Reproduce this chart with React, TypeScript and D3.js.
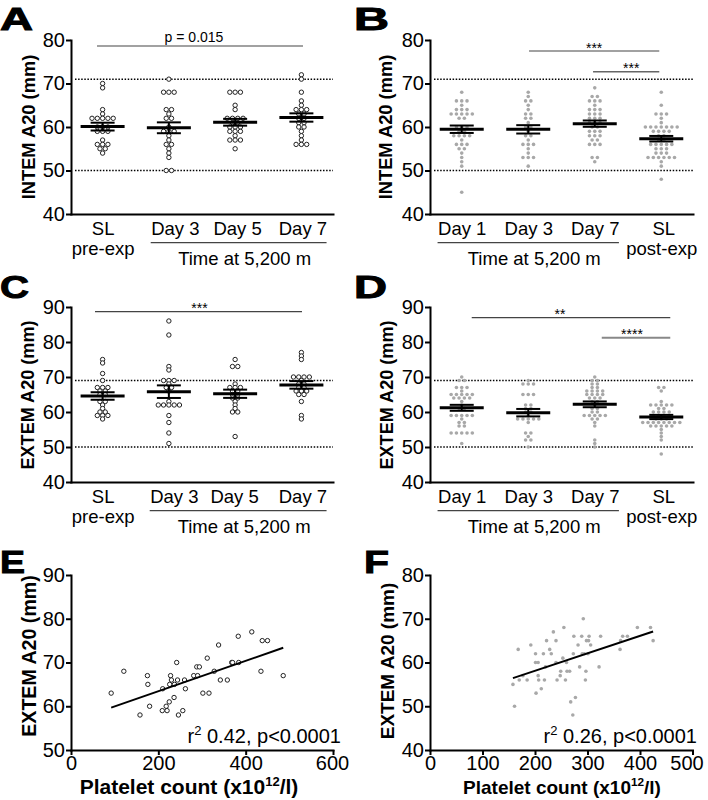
import * as d3 from "d3";
import { useEffect, useRef } from "react";

const FONT = "'Liberation Sans', Arial, Helvetica, sans-serif";
const W = 708;
const H = 800;

// ---- A: INTEM A20, first group (open circles)
const catsA = ["SL|pre-exp", "Day 3", "Day 5", "Day 7"];
const intemPreSL = [70, 69, 64, 63, 62, 62, 62, 62, 62, 60, 60, 60, 59, 59, 59, 57, 56, 56, 56, 55, 55, 54];
const intemDay3A = [71, 68, 68, 68, 64, 64, 63, 62, 62, 60, 59, 59, 59, 58, 57, 56, 56, 55, 54, 53, 50, 50];
const intemDay5A = [68, 68, 68, 65, 64, 62, 62, 62, 62, 61, 61, 60, 60, 60, 59, 59, 59, 58, 57, 57, 57, 55];
const intemDay7A = [72, 71, 68, 66, 65, 64, 64, 64, 63, 63, 62, 62, 61, 61, 60, 60, 59, 58, 57, 56, 56, 56];

// ---- B: INTEM A20, second group (grey dots)
const catsB = ["Day 1", "Day 3", "Day 7", "SL|post-exp"];
const intemDay1B = [68, 66, 66, 66, 65, 64, 64, 64, 63, 63, 63, 63, 63, 62, 62, 60, 60, 60, 59, 59, 58, 58, 58, 58, 57, 56, 56, 56, 55, 55, 54, 53, 52, 51, 45];
const intemDay3B = [68, 67, 66, 66, 65, 64, 63, 63, 62, 62, 61, 60, 60, 59, 58, 58, 57, 56, 56, 56, 55, 54, 53, 53, 53, 51];
const intemDay7B = [69, 67, 67, 66, 66, 66, 65, 64, 64, 64, 63, 63, 63, 62, 62, 62, 61, 61, 61, 60, 60, 59, 59, 59, 58, 58, 58, 57, 57, 56, 56, 56, 53, 53, 52];
const intemPostSL = [68, 65, 63, 63, 63, 62, 61, 60, 60, 60, 60, 60, 60, 60, 59, 59, 59, 59, 58, 58, 57, 57, 56, 56, 56, 56, 56, 55, 55, 55, 54, 54, 54, 53, 53, 53, 53, 53, 53, 52, 51, 48];

// ---- C: EXTEM A20, first group
const extemPreSL = [75, 74, 71, 69, 67, 67, 67, 66, 66, 65, 65, 63, 63, 62, 61, 60, 60, 59, 59, 59, 58];
const extemDay3A = [86, 82, 73, 72, 69, 69, 69, 68, 67, 67, 66, 63, 62, 62, 62, 62, 62, 59, 57, 54, 51];
const extemDay5A = [75, 73, 73, 68, 67, 67, 67, 66, 66, 65, 65, 64, 64, 63, 62, 61, 60, 60, 53];
const extemDay7A = [77, 76, 75, 70, 70, 70, 70, 69, 68, 68, 67, 67, 66, 66, 66, 65, 65, 63, 59, 58];

// ---- D: EXTEM A20, second group
const extemDay1B = [70, 69, 69, 67, 67, 67, 66, 65, 65, 65, 65, 65, 64, 64, 64, 64, 63, 62, 61, 61, 59, 59, 59, 59, 59, 58, 57, 57, 56, 56, 54, 54, 54, 54, 54, 51];
const extemDay3B = [69, 68, 68, 68, 65, 65, 65, 62, 62, 61, 61, 60, 60, 59, 58, 58, 58, 58, 58, 57, 54, 54, 53, 52, 52, 50];
const extemDay7B = [70, 69, 69, 68, 68, 67, 67, 66, 66, 66, 66, 65, 65, 65, 65, 64, 64, 64, 63, 63, 62, 61, 61, 60, 60, 59, 59, 59, 59, 59, 58, 58, 57, 56, 52, 51, 50];
const extemPostSL = [67, 67, 66, 63, 62, 62, 62, 62, 62, 61, 61, 60, 60, 60, 60, 59, 59, 59, 59, 58, 58, 58, 57, 57, 57, 57, 57, 57, 57, 57, 56, 56, 56, 56, 56, 55, 54, 53, 52, 48];

// ---- E / F: EXTEM A20 vs platelet count
const plateletE = [92, 121, 158, 175, 176, 180, 210, 209, 218, 220, 225, 228, 230, 226, 237, 236, 242, 244, 246, 256, 260, 262, 281, 288, 294, 290, 302, 312, 316, 328, 338, 342, 358, 368, 370, 384, 383, 414, 435, 438, 450, 486];
const extemE = [63, 68, 58, 67, 65, 60, 64, 59, 60, 59, 61, 67, 66, 65, 65, 62, 70, 66, 58, 59, 66, 64, 67, 69, 69, 67, 63, 71, 63, 68, 74, 66, 66, 70, 70, 70, 76, 77, 68, 75, 75, 67];
const plateletF = [158, 161, 168, 170, 177, 185, 192, 201, 201, 206, 202, 206, 207, 212, 216, 218, 222, 220, 228, 231, 235, 240, 240, 242, 248, 249, 253, 255, 258, 260, 261, 266, 268, 274, 273, 277, 272, 282, 285, 289, 290, 292, 294, 296, 297, 298, 302, 303, 301, 306, 322, 325, 362, 363, 367, 376, 395, 420, 425];
const extemF = [55, 50, 63, 56, 57, 56, 64, 62, 60, 60, 53, 57, 56, 54, 62, 56, 65, 59, 63, 62, 67, 65, 60, 56, 57, 58, 61, 68, 56, 60, 58, 58, 51, 66, 62, 52, 48, 64, 59, 66, 62, 70, 62, 56, 58, 65, 65, 66, 62, 64, 59, 66, 63, 65, 66, 66, 68, 68, 65];

const ticksAB = [40, 50, 60, 70, 80];
const ticksCD = [40, 50, 60, 70, 80, 90];
const ticksEy = [50, 60, 70, 80, 90];
const ticksEx = [0, 200, 400, 600];
const ticksFy = [40, 50, 60, 70, 80];
const ticksFx = [0, 100, 200, 300, 400, 500];
const refIntem = [71, 50];
const refExtem = [69, 50];

type Sig = { from: number; to: number; label: string };
const sigA: Sig[] = [{ from: 0, to: 3, label: "p = 0.015" }];
const sigB: Sig[] = [
  { from: 1, to: 3, label: "***" },
  { from: 2, to: 3, label: "***" },
];
const sigC: Sig[] = [{ from: 0, to: 3, label: "***" }];
const sigD: Sig[] = [
  { from: 0, to: 3, label: "**" },
  { from: 2, to: 3, label: "****" },
];

type Sel = d3.Selection<SVGSVGElement, unknown, null, undefined>;

// identical values are spread side by side, centred on the column
function swarm(values: number[], step: number) {
  const counts = d3.rollup(values, v => v.length, d => d);
  const seen = new Map<number, number>();
  return values.map(v => {
    const n = counts.get(v)!;
    const i = seen.get(v) ?? 0;
    seen.set(v, i + 1);
    return { v, dx: (i - (n - 1) / 2) * step };
  });
}

function letter(svg: Sel, t: string, x: number, y: number, w: number) {
  svg
    .append("text")
    .attr("x", x)
    .attr("y", y)
    .attr("font-family", FONT)
    .attr("font-weight", 700)
    .attr("font-size", 32)
    .attr("textLength", w)
    .attr("lengthAdjust", "spacingAndGlyphs")
    .attr("stroke", "#000")
    .attr("stroke-width", 1)
    .text(t);
}

function yTitle(svg: Sel, t: string, x: number, y: number, size: number) {
  svg
    .append("text")
    .attr("transform", `translate(${x},${y}) rotate(-90)`)
    .attr("text-anchor", "middle")
    .attr("dy", "0.35em")
    .attr("font-family", FONT)
    .attr("font-weight", 700)
    .attr("font-size", size)
    .text(t);
}

function styleAxis(ax: d3.Selection<SVGGElement, unknown, null, undefined>, size: number) {
  ax.attr("font-family", FONT);
  ax.select(".domain").attr("stroke", "#000").attr("stroke-width", 2).attr("stroke-linecap", "square");
  ax.selectAll(".tick line").attr("stroke", "#000").attr("stroke-width", 2);
  ax.selectAll(".tick text").attr("fill", "#000").attr("font-size", size);
}

interface DotOpts {
  left: number;
  right: number;
  top: number;
  bottom: number;
  domain: [number, number];
  ticks: number[];
  cats: string[];
  groups: number[][];
  filled: boolean;
  refs: number[];
  dayIdx: [number, number];
  nudge: number[];
  sigs: Sig[];
  sigY: number[];
  sigDx: [number, number][];
  sigLabelDx: number[];
  sigColor: string[];
  sigWidth: number[];
}

function dotPanel(svg: Sel, o: DotOpts) {
  const g = svg.append("g");
  const y = d3.scaleLinear().domain(o.domain).range([o.bottom, o.top]);
  const x = d3
    .scalePoint<number>()
    .domain(d3.range(o.cats.length))
    .range([o.left, o.right])
    .padding(0.477);

  // normal range lines
  g.selectAll(".ref")
    .data(o.refs)
    .join("line")
    .attr("x1", o.left + 4)
    .attr("x2", o.right)
    .attr("y1", d => y(d))
    .attr("y2", d => y(d))
    .attr("stroke", "#000")
    .attr("stroke-width", 1.5)
    .attr("stroke-dasharray", "1.5 1.6");

  o.groups.forEach((vals, i) => {
    const cx = x(i)!;
    g.append("g")
      .selectAll("circle")
      .data(swarm(vals, 5.3))
      .join("circle")
      .attr("cx", d => cx + d.dx)
      .attr("cy", d => y(d.v))
      .attr("r", o.filled ? 1.8 : 2.2)
      .attr("fill", o.filled ? "#a8a8a8" : "#fff")
      .attr("stroke", o.filled ? "none" : "#222")
      .attr("stroke-width", 1);

    const m = d3.mean(vals)!;
    const se = d3.deviation(vals)! / Math.sqrt(vals.length);
    const bar = g.append("g").attr("stroke", "#000");
    bar.append("line").attr("x1", cx - 22).attr("x2", cx + 22).attr("y1", y(m)).attr("y2", y(m)).attr("stroke-width", 3);
    bar.append("line").attr("x1", cx).attr("x2", cx).attr("y1", y(m - se)).attr("y2", y(m + se)).attr("stroke-width", 2);
    [m - se, m + se].forEach(v =>
      bar.append("line").attr("x1", cx - 12).attr("x2", cx + 12).attr("y1", y(v)).attr("y2", y(v)).attr("stroke-width", 2),
    );
  });

  // y axis
  const ay = g
    .append("g")
    .attr("transform", `translate(${o.left},0)`)
    .call(d3.axisLeft(y).tickValues(o.ticks).tickSize(5).tickSizeOuter(0).tickPadding(1));
  styleAxis(ay, 20);

  // x axis with two-line category labels
  const ax = g
    .append("g")
    .attr("transform", `translate(0,${o.bottom})`)
    .call(
      d3
        .axisBottom(x)
        .tickSize(0)
        .tickSizeOuter(0)
        .tickPadding(8)
        .tickFormat(() => ""),
    );
  styleAxis(ax, 18.5);
  const widths: number[] = [];
  ax.selectAll<SVGTextElement, number>(".tick text").each(function (d) {
    const t = d3.select(this).attr("dx", o.nudge[d]);
    o.cats[d].split("|").forEach((line, k) => {
      t.append("tspan")
        .attr("x", 0)
        .attr("dy", k === 0 ? null : "1.05em")
        .text(line);
    });
    widths[d] = (this.firstChild as SVGTextContentElement).getComputedTextLength();
  });

  // bracket under the altitude days
  const [a, b] = o.dayIdx;
  const bx1 = x(a)! + o.nudge[a] - widths[a] / 2;
  const bx2 = x(b)! + o.nudge[b] + widths[b] / 2;
  g.append("line")
    .attr("x1", bx1)
    .attr("x2", bx2)
    .attr("y1", o.bottom + 28.7)
    .attr("y2", o.bottom + 28.7)
    .attr("stroke", "#444")
    .attr("stroke-width", 1.2);
  g.append("text")
    .attr("x", (bx1 + bx2) / 2 + 6)
    .attr("y", o.bottom + 50.5)
    .attr("text-anchor", "middle")
    .attr("font-family", FONT)
    .attr("font-size", 18.5)
    .text("Time at 5,200 m");

  // significance lines
  o.sigs.forEach((s, i) => {
    const x1 = x(s.from)! + o.sigDx[i][0];
    const x2 = x(s.to)! + o.sigDx[i][1];
    const yy = o.top + o.sigY[i];
    g.append("line")
      .attr("x1", x1)
      .attr("x2", x2)
      .attr("y1", yy)
      .attr("y2", yy)
      .attr("stroke", o.sigColor[i])
      .attr("stroke-width", o.sigWidth[i]);
    const stars = s.label.startsWith("*");
    g.append("text")
      .attr("x", (x1 + x2) / 2 + o.sigLabelDx[i])
      .attr("y", stars ? yy + 1.5 : yy - 4.5)
      .attr("text-anchor", "middle")
      .attr("font-family", FONT)
      .attr("font-size", 14)
      .text(s.label);
  });
}

interface ScatterOpts {
  left: number;
  right: number;
  top: number;
  bottom: number;
  xDomain: [number, number];
  yDomain: [number, number];
  xTicks: number[];
  yTicks: number[];
  xs: number[];
  ys: number[];
  filled: boolean;
  r2: string;
  annX: number;
  xLabelX: number;
  xLabelSize: number;
  lastTickDx: number;
}

function scatterPanel(svg: Sel, o: ScatterOpts) {
  const g = svg.append("g");
  const x = d3.scaleLinear().domain(o.xDomain).range([o.left, o.right]);
  const y = d3.scaleLinear().domain(o.yDomain).range([o.bottom, o.top]);
  const pts = o.xs.map((v, i) => ({ x: v, y: o.ys[i] }));

  g.append("g")
    .selectAll("circle")
    .data(pts)
    .join("circle")
    .attr("cx", d => x(d.x))
    .attr("cy", d => y(d.y))
    .attr("r", o.filled ? 1.8 : 2.2)
    .attr("fill", o.filled ? "#a8a8a8" : "#fff")
    .attr("stroke", o.filled ? "none" : "#222")
    .attr("stroke-width", 1);

  // least squares fit
  const mx = d3.mean(o.xs)!;
  const my = d3.mean(o.ys)!;
  const slope = d3.sum(pts, p => (p.x - mx) * (p.y - my)) / d3.sum(pts, p => (p.x - mx) ** 2);
  const ext = d3.extent(o.xs) as [number, number];
  const line = d3
    .line<number>()
    .x(v => x(v))
    .y(v => y(my + slope * (v - mx)));
  g.append("path").attr("d", line(ext)).attr("stroke", "#000").attr("stroke-width", 2).attr("fill", "none");

  const ay = g
    .append("g")
    .attr("transform", `translate(${o.left},0)`)
    .call(d3.axisLeft(y).tickValues(o.yTicks).tickSize(5).tickSizeOuter(0).tickPadding(1));
  styleAxis(ay, 20);
  const ax = g
    .append("g")
    .attr("transform", `translate(0,${o.bottom})`)
    .call(d3.axisBottom(x).tickValues(o.xTicks).tickSize(5).tickSizeOuter(0).tickPadding(1));
  styleAxis(ax, 20);
  const last = o.xTicks[o.xTicks.length - 1];
  ax.selectAll<SVGTextElement, number>(".tick text")
    .filter(d => d === last)
    .attr("dx", o.lastTickDx);

  const ann = g
    .append("text")
    .attr("x", o.annX)
    .attr("y", o.bottom - 7)
    .attr("text-anchor", "end")
    .attr("font-family", FONT)
    .attr("font-size", 20);
  ann.append("tspan").text("r");
  ann.append("tspan").attr("font-size", 13).attr("dy", -8).text("2");
  ann.append("tspan").attr("dy", 8).text(` ${o.r2}, p<0.0001`);

  const xl = g
    .append("text")
    .attr("x", o.xLabelX)
    .attr("y", 794)
    .attr("text-anchor", "middle")
    .attr("font-family", FONT)
    .attr("font-weight", 700)
    .attr("font-size", o.xLabelSize);
  xl.append("tspan").text("Platelet count (x10");
  xl.append("tspan").attr("font-size", o.xLabelSize * 0.62).attr("dy", -o.xLabelSize * 0.4).text("12");
  xl.append("tspan").attr("dy", o.xLabelSize * 0.4).text("/l)");
}

export default function App() {
  const ref = useRef<SVGSVGElement>(null);

  useEffect(() => {
    if (!ref.current) return;
    const svg = d3.select(ref.current);
    svg.selectAll("*").remove();
    svg.append("rect").attr("width", W).attr("height", H).attr("fill", "#fff");

    const xL = 71;
    const xR = 333;
    const x2L = 430;
    const x2R = 693;

    // A
    dotPanel(svg, {
      left: xL,
      right: xR,
      top: 40,
      bottom: 214,
      domain: [40, 80],
      ticks: ticksAB,
      cats: catsA,
      groups: [intemPreSL, intemDay3A, intemDay5A, intemDay7A],
      filled: false,
      refs: refIntem,
      dayIdx: [1, 3],
      nudge: [0, 6, 2, 1],
      sigs: sigA,
      sigY: [6],
      sigDx: [[-5.6, 1.6]],
      sigLabelDx: [-6],
      sigColor: ["#444"],
      sigWidth: [1.2],
    });
    letter(svg, "A", 0, 29.5, 33);
    yTitle(svg, "INTEM A20 (mm)", 29, 127, 18.3);

    // B
    dotPanel(svg, {
      left: x2L,
      right: x2R,
      top: 40,
      bottom: 214,
      domain: [40, 80],
      ticks: ticksAB,
      cats: catsB,
      groups: [intemDay1B, intemDay3B, intemDay7B, intemPostSL],
      filled: true,
      refs: refIntem,
      dayIdx: [0, 2],
      nudge: [0, 0, 0, 2],
      sigs: sigB,
      sigY: [11, 31.7],
      sigDx: [
        [0.8, -2],
        [-1.7, -2],
      ],
      sigLabelDx: [0, 5],
      sigColor: ["#444", "#666"],
      sigWidth: [1.2, 1.4],
    });
    letter(svg, "B", 354, 29.5, 35);
    yTitle(svg, "INTEM A20 (mm)", 386, 127, 18.3);

    // C
    dotPanel(svg, {
      left: xL,
      right: xR,
      top: 307,
      bottom: 482,
      domain: [40, 90],
      ticks: ticksCD,
      cats: catsA,
      groups: [extemPreSL, extemDay3A, extemDay5A, extemDay7A],
      filled: false,
      refs: refExtem,
      dayIdx: [1, 3],
      nudge: [0, 5, -1, 1],
      sigs: sigC,
      sigY: [4.7],
      sigDx: [[-7.6, 0.6]],
      sigLabelDx: [1],
      sigColor: ["#444"],
      sigWidth: [1.2],
    });
    letter(svg, "C", 0, 298, 29);
    yTitle(svg, "EXTEM A20 (mm)", 28, 395, 18.1);

    // D
    dotPanel(svg, {
      left: x2L,
      right: x2R,
      top: 307,
      bottom: 482,
      domain: [40, 90],
      ticks: ticksCD,
      cats: catsB,
      groups: [extemDay1B, extemDay3B, extemDay7B, extemPostSL],
      filled: true,
      refs: refExtem,
      dayIdx: [0, 2],
      nudge: [0, 0, 0, 2],
      sigs: sigD,
      sigY: [10.7, 30.7],
      sigDx: [
        [10, 9],
        [7, 9],
      ],
      sigLabelDx: [-11, -4],
      sigColor: ["#444", "#888"],
      sigWidth: [1.2, 2],
    });
    letter(svg, "D", 354, 298, 33);
    yTitle(svg, "EXTEM A20 (mm)", 387, 395, 18.1);

    // E
    scatterPanel(svg, {
      left: xL,
      right: xR,
      top: 575,
      bottom: 750,
      xDomain: [0, 600],
      yDomain: [50, 90],
      xTicks: ticksEx,
      yTicks: ticksEy,
      xs: plateletE,
      ys: extemE,
      filled: false,
      r2: "0.42",
      annX: 341,
      xLabelX: 189,
      xLabelSize: 21,
      lastTickDx: -1,
    });
    letter(svg, "E", 0, 573, 25);
    yTitle(svg, "EXTEM A20 (mm)", 29, 656, 19.6);

    // F
    scatterPanel(svg, {
      left: x2L,
      right: 692.5,
      top: 575,
      bottom: 750,
      xDomain: [0, 500],
      yDomain: [40, 80],
      xTicks: ticksFx,
      yTicks: ticksFy,
      xs: plateletF,
      ys: extemF,
      filled: true,
      r2: "0.26",
      annX: 697,
      xLabelX: 562,
      xLabelSize: 19,
      lastTickDx: -6,
    });
    letter(svg, "F", 364, 573, 25);
    yTitle(svg, "EXTEM A20 (mm)", 387, 661, 19);
  }, []);

  return (
    <svg
      ref={ref}
      width={W}
      height={H}
      viewBox={`0 0 ${W} ${H}`}
      style={{ position: "absolute", left: 0, top: 0, display: "block" }}
    />
  );
}
